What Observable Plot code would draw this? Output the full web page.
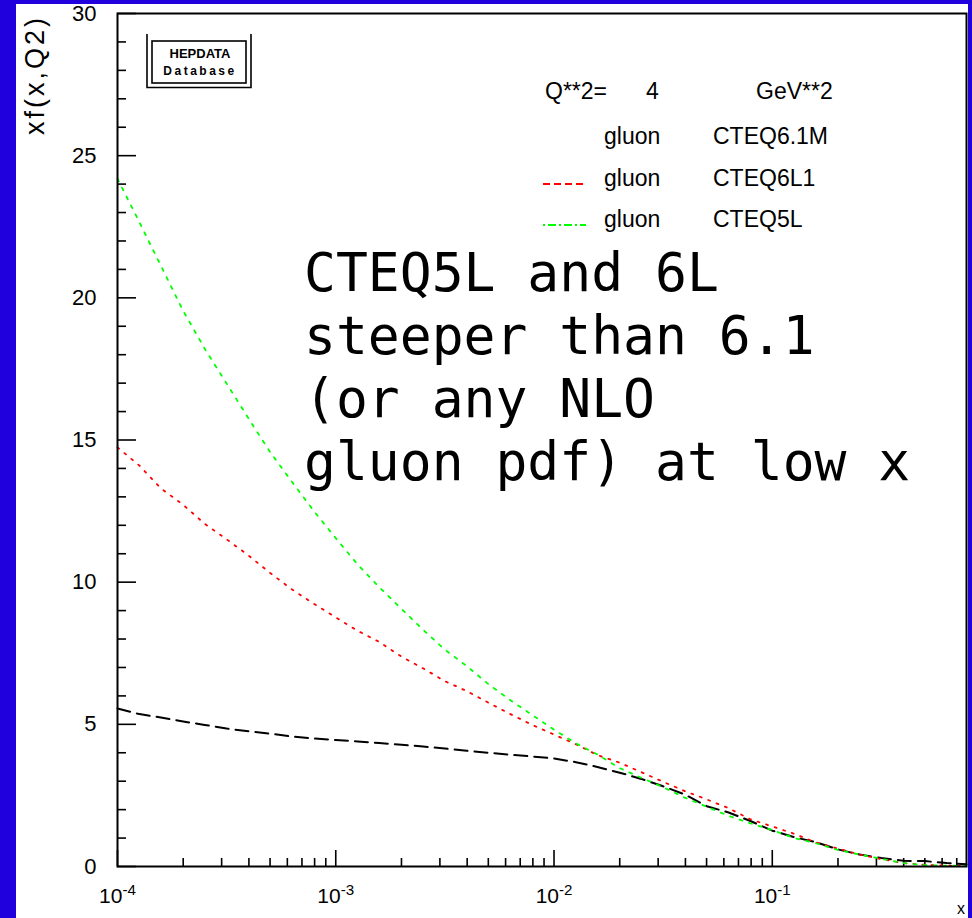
<!DOCTYPE html>
<html>
<head>
<meta charset="utf-8">
<script src="https://cdn.jsdelivr.net/npm/d3@7"></script>
<script src="https://cdn.jsdelivr.net/npm/@observablehq/plot@0.6"></script>
<style>
  html, body { margin: 0; padding: 0; background: #2000dc; }
  #wrap { position: relative; width: 972px; height: 918px; overflow: hidden; }
  #paper { position: absolute; left: 16px; top: 4px; width: 952px; height: 914px; background: #ffffff; }
  #chart { position: absolute; left: 0; top: 0; }
</style>
</head>
<body>
<div id="wrap"><div id="paper"></div><div id="chart"></div></div>
<script>
// Gluon momentum density x*g(x, Q^2) at Q^2 = 4 GeV^2 for three PDF sets.
const xGrid = [
  1.00e-4, 1.26e-4, 1.58e-4, 2.00e-4, 2.51e-4, 3.16e-4, 3.98e-4, 5.01e-4, 6.31e-4, 7.94e-4,
  1.00e-3, 1.26e-3, 1.58e-3, 2.00e-3, 2.51e-3, 3.16e-3, 3.98e-3, 5.01e-3, 6.31e-3, 7.94e-3,
  1.00e-2, 1.26e-2, 1.58e-2, 2.00e-2, 2.51e-2, 3.16e-2, 3.98e-2, 5.01e-2, 6.31e-2, 7.94e-2,
  1.00e-1, 1.26e-1, 1.58e-1, 2.00e-1, 2.51e-1, 3.16e-1, 3.98e-1, 5.01e-1, 6.31e-1, 7.76e-1
];
const gluonCTEQ61M = [
  5.56, 5.36, 5.24, 5.10, 4.98, 4.85, 4.76, 4.67, 4.57, 4.50,
  4.45, 4.40, 4.34, 4.28, 4.22, 4.15, 4.07, 4.00, 3.93, 3.87,
  3.80, 3.67, 3.50, 3.30, 3.08, 2.82, 2.53, 2.12, 1.90, 1.60,
  1.26, 1.03, 0.86, 0.60, 0.42, 0.30, 0.20, 0.19, 0.12, 0.08
];
const gluonCTEQ6L1 = [
  14.74, 14.10, 13.30, 12.72, 12.05, 11.51, 10.94, 10.32, 9.74, 9.24,
  8.76, 8.29, 7.90, 7.38, 6.97, 6.52, 6.17, 5.76, 5.36, 4.98,
  4.64, 4.30, 3.92, 3.65, 3.32, 2.98, 2.65, 2.36, 2.05, 1.66,
  1.41, 1.15, 0.85, 0.63, 0.42, 0.26, 0.12, 0.06, 0.03, 0.01
];
const gluonCTEQ5L = [
  24.19, 22.66, 21.13, 19.54, 18.21, 16.99, 15.76, 14.57, 13.52, 12.50,
  11.55, 10.62, 9.83, 9.06, 8.33, 7.63, 7.05, 6.41, 5.85, 5.33,
  4.81, 4.33, 3.94, 3.46, 3.12, 2.79, 2.42, 2.10, 1.78, 1.52,
  1.28, 1.00, 0.82, 0.58, 0.42, 0.27, 0.12, 0.05, 0.03, 0.02
];

// Axis ranges and ticks
const xDomain = [1e-4, 0.776];
const yDomain = [0, 30];
const xMajorTicks = [1e-4, 1e-3, 1e-2, 1e-1];
const xMinorTicks = [
  2e-4, 3e-4, 4e-4, 5e-4, 6e-4, 7e-4, 8e-4, 9e-4,
  2e-3, 3e-3, 4e-3, 5e-3, 6e-3, 7e-3, 8e-3, 9e-3,
  2e-2, 3e-2, 4e-2, 5e-2, 6e-2, 7e-2, 8e-2, 9e-2,
  2e-1, 3e-1, 4e-1, 5e-1, 6e-1, 7e-1
];
const yMajorTicks = [0, 5, 10, 15, 20, 25, 30];
const yMinorTicks = d3.range(0, 31).filter(v => v % 5 !== 0);

// Legend and annotation text
const q2Label = ["Q**2=", "4", "GeV**2"];
const legendParton = ["gluon", "gluon", "gluon"];
const legendSets = ["CTEQ6.1M", "CTEQ6L1", "CTEQ5L"];
const noteLines = ["CTEQ5L and 6L", "steeper than 6.1", "(or any NLO", "gluon pdf) at low x"];
const yTitle = "xf(x,Q2)";
const xTitle = "x";
const stampLines = ["HEPDATA", "Database"];

const rows = (ys) => xGrid.map((x, i) => ({x, y: ys[i]}));

const font = "'Liberation Sans', Arial, Helvetica, sans-serif";

const chart = Plot.plot({
  width: 972,
  height: 918,
  marginLeft: 117,
  marginRight: 6,
  marginTop: 13,
  marginBottom: 52,
  style: {background: "transparent", fontFamily: font, color: "black", overflow: "visible"},
  x: {type: "log", domain: xDomain, axis: null},
  y: {domain: yDomain, axis: null},
  marks: [
    Plot.axisX(xMinorTicks, {tickSize: -8, fill: "none", label: null, strokeWidth: 1.6}),
    Plot.axisX(xMajorTicks, {tickSize: -16, fill: "none", label: null, strokeWidth: 1.6}),
    Plot.axisX(xMajorTicks, {
      tickSize: 0, stroke: "none", tickPadding: 22, fontSize: 21, label: null,
      tickFormat: d => "10^" + Math.round(Math.log10(d))
    }),
    Plot.axisY(yMinorTicks, {tickSize: -9, fill: "none", label: null, strokeWidth: 1.6}),
    Plot.axisY(yMajorTicks, {tickSize: -19, fill: "none", label: null, strokeWidth: 1.6}),
    Plot.axisY(yMajorTicks, {tickSize: 0, stroke: "none", tickPadding: 21, fontSize: 22, label: null}),
    Plot.line(rows(gluonCTEQ61M), {x: "x", y: "y", stroke: "black", strokeWidth: 2, strokeDasharray: "13,7"}),
    Plot.line(rows(gluonCTEQ6L1), {x: "x", y: "y", stroke: "#ff0000", strokeWidth: 1.8, strokeDasharray: "2,7"}),
    Plot.line(rows(gluonCTEQ5L), {x: "x", y: "y", stroke: "#00ff00", strokeWidth: 1.8, strokeDasharray: "3,7"}),
    Plot.frame({stroke: "black", strokeWidth: 2})
  ]
});

document.getElementById("chart").appendChild(chart);

const svg = d3.select(chart);

// Superscript exponents on the log-axis labels
svg.selectAll('g[aria-label="x-axis tick label"] text').each(function () {
  const parts = this.textContent.split("^");
  if (parts.length !== 2) return;
  const t = d3.select(this);
  t.text(null);
  t.append("tspan").text(parts[0]);
  t.append("tspan").attr("dy", "-0.55em").attr("font-size", "0.72em").text(parts[1]);
});

const layer = svg.append("g")
  .attr("font-family", font)
  .attr("fill", "black")
  .attr("text-anchor", "start");

// Axis titles
layer.append("text")
  .attr("transform", "translate(44,15) rotate(-90)")
  .attr("text-anchor", "end")
  .attr("font-size", 27)
  .attr("letter-spacing", 3)
  .text(yTitle);
layer.append("text")
  .attr("x", 965).attr("y", 914)
  .attr("text-anchor", "end")
  .attr("font-size", 16)
  .text(xTitle);

// Stamp box in the upper-left corner
const stamp = layer.append("g").attr("fill", "none").attr("stroke", "black").attr("stroke-width", 1.6);
stamp.append("path").attr("d", "M147,34 V87.5 H251 V34");
stamp.append("rect").attr("x", 152).attr("y", 41).attr("width", 94).attr("height", 42);
layer.append("text").attr("x", 200).attr("y", 58).attr("text-anchor", "middle")
  .attr("font-size", 13).attr("font-weight", "bold").text(stampLines[0]);
layer.append("text").attr("x", 200).attr("y", 75).attr("text-anchor", "middle")
  .attr("font-size", 12).attr("font-weight", "bold").attr("letter-spacing", 2.5).text(stampLines[1]);

// Legend
const legFont = 23;
layer.append("text").attr("x", 545).attr("y", 99).attr("font-size", legFont).text(q2Label[0]);
layer.append("text").attr("x", 646).attr("y", 99).attr("font-size", legFont).text(q2Label[1]);
layer.append("text").attr("x", 756).attr("y", 99).attr("font-size", legFont).text(q2Label[2]);
const legRows = [144, 186, 227];
const legStyles = [
  {stroke: "none", dash: null},
  {stroke: "#ff0000", dash: "7,4"},
  {stroke: "#00ff00", dash: "2,3,8,3"}
];
legRows.forEach((yb, i) => {
  if (legStyles[i].stroke !== "none") {
    layer.append("line")
      .attr("x1", 543).attr("x2", 586).attr("y1", yb - 2).attr("y2", yb - 2)
      .attr("stroke", legStyles[i].stroke).attr("stroke-width", 1.8)
      .attr("stroke-dasharray", legStyles[i].dash);
  }
  layer.append("text").attr("x", 604).attr("y", yb).attr("font-size", legFont).text(legendParton[i]);
  layer.append("text").attr("x", 713).attr("y", yb).attr("font-size", legFont).text(legendSets[i]);
});

// Annotation
const note = layer.append("text")
  .attr("font-family", "'DejaVu Sans Mono', monospace")
  .attr("font-size", 53);
noteLines.forEach((line, i) => {
  note.append("tspan").attr("x", 304).attr("y", 291 + i * 63).text(line);
});
</script>
</body>
</html>
